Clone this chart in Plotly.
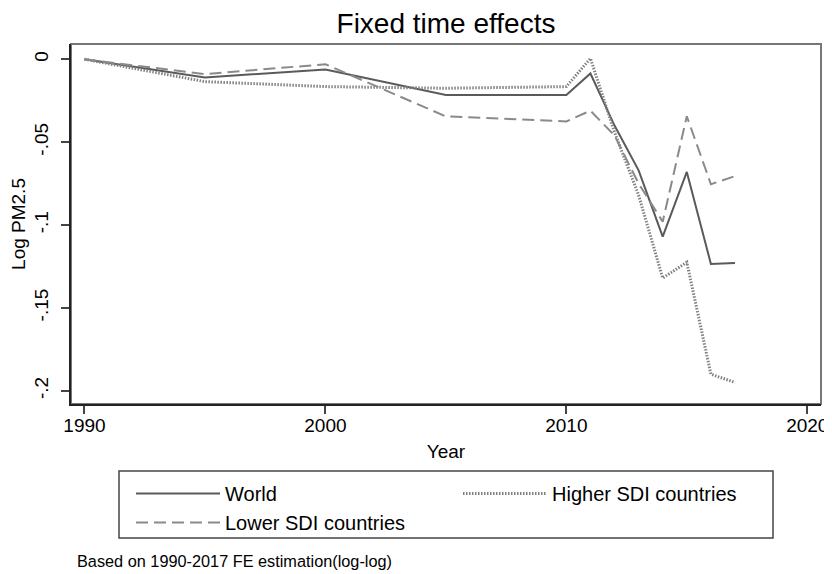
import plotly.graph_objects as go

years = [1990, 1995, 2000, 2005, 2010, 2011, 2012, 2013, 2014, 2015, 2016, 2017]
world = [0.0, -0.011, -0.0062, -0.0216, -0.0216, -0.0086, -0.040, -0.067, -0.107, -0.068, -0.1235, -0.123]
higher_sdi = [0.0, -0.0135, -0.0165, -0.0175, -0.0165, 0.0005, -0.044, -0.082, -0.132, -0.1225, -0.190, -0.195]
lower_sdi = [0.0, -0.009, -0.003, -0.0345, -0.0375, -0.031, -0.046, -0.075, -0.098, -0.0344, -0.0754, -0.0705]

x_tickvals = [1990, 2000, 2010, 2020]
y_tickvals = [0, -0.05, -0.1, -0.15, -0.2]
y_ticktext = ["0", "-.05", "-.1", "-.15", "-.2"]

FONT = "Liberation Sans, Arial, Helvetica, sans-serif"

# page body has an 8px margin: figure is drawn at (8, 8) inside the window
OFF = 8
W, H = 832 - OFF, 574 - OFF
PL, PT, PW, PH = 71 - OFF, 44 - OFF, 750, 360  # plot area in figure pixels


def px(xr):
    return (xr - 71) / PW


def py(yr):
    return (404 - yr) / PH


fig = go.Figure()
fig.add_trace(go.Scatter(x=years, y=world, mode="lines", name="World",
                         line=dict(color="#5a5a5a", width=2)))
fig.add_trace(go.Scatter(x=years, y=higher_sdi, mode="lines", name="Higher SDI countries",
                         line=dict(color="#808080", width=3, dash="1.5px,1.5px")))
fig.add_trace(go.Scatter(x=years, y=lower_sdi, mode="lines", name="Lower SDI countries",
                         line=dict(color="#8a8a8a", width=2, dash="12px,6px")))

fig.update_layout(
    width=W, height=H,
    margin=dict(l=PL, r=W - PL - PW, t=PT, b=H - PT - PH, autoexpand=False),
    paper_bgcolor="white", plot_bgcolor="white",
    font=dict(family=FONT, size=19, color="black"),
    title=dict(text="Fixed time effects", x=0.5, xref="paper", xanchor="center",
               y=1 - 15.5 / H, yref="container", yanchor="middle",
               font=dict(size=28, color="black")),
    showlegend=True,
    legend=dict(orientation="h", x=px(131), xanchor="left",
                y=py(474), yanchor="top", entrywidth=228,
                bgcolor="rgba(0,0,0,0)", font=dict(size=20),
                tracegroupgap=0, itemwidth=84),
    shapes=[
        dict(type="rect", xref="paper", yref="paper", x0=0, x1=1, y0=0, y1=1,
             line=dict(color="#777777", width=2), layer="below"),
        dict(type="rect", xref="paper", yref="paper",
             x0=px(119), x1=px(773), y0=py(538), y1=py(471),
             line=dict(color="#444444", width=1.5)),
    ],
    annotations=[
        dict(text="Based on 1990-2017 FE estimation(log-log)", xref="paper", yref="paper",
             x=px(75), y=py(561), xanchor="left", yanchor="middle",
             showarrow=False, font=dict(size=16.3, color="black")),
    ],
)

fig.update_xaxes(range=[1989.44, 2020.57], tickvals=x_tickvals, ticks="outside",
                 ticklen=8, tickcolor="#444", tickwidth=1.5, showgrid=False, zeroline=False,
                 showline=True, linecolor="#222", linewidth=2, ticklabelstandoff=-5,
                 title=dict(text="Year", standoff=10, font=dict(size=19)),
                 tickfont=dict(size=19))
fig.update_yaxes(range=[-0.208, 0.0092], tickvals=y_tickvals, ticktext=y_ticktext,
                 ticks="outside", ticklen=8, tickcolor="#444", tickwidth=1.5,
                 tickangle=-90, showgrid=False, zeroline=False, ticklabelstandoff=5,
                 showline=True, linecolor="#222", linewidth=2,
                 title=dict(text="Log PM2.5", standoff=4, font=dict(size=19)),
                 tickfont=dict(size=19))

fig.write_html("out.html")
